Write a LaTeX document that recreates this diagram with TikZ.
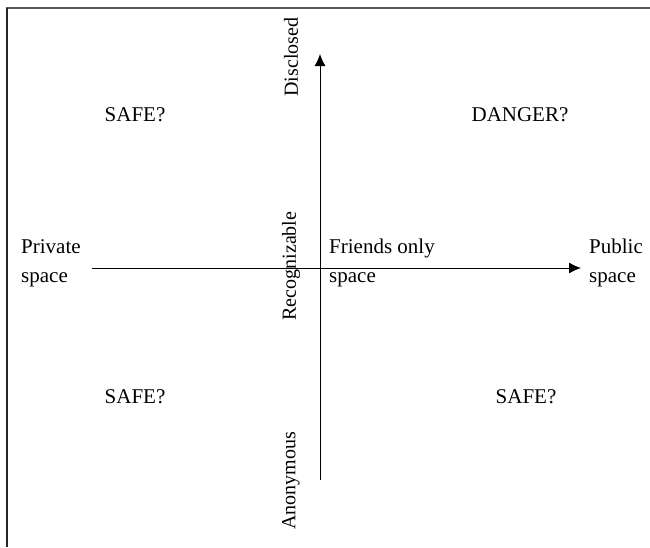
\documentclass[tikz,border=0pt]{standalone}
\usepackage{fontspec}
\setmainfont{Liberation Serif}
\usetikzlibrary{arrows.meta}
\begin{document}
\begin{tikzpicture}[x=1pt, y=-1pt,
    lbl/.style = {inner sep=0pt, font=\fontsize{21}{29}\selectfont},
    side/.style = {lbl, align=left, anchor=west},
    axislbl/.style = {inner sep=0pt, font=\fontsize{20}{28}\selectfont, rotate=90},
    axis/.style = {line width=0.9pt, -{Latex[length=12pt, width=11pt]}}]
    \useasboundingbox (0,0) rectangle (650,547);
    % frame
    \draw[line width=1.6pt, black!65] (6,8) -- (650,8);
    \draw[line width=1.6pt, black!85] (7,8) -- (7,547);

    \coordinate (west) at (92, 268);
    \coordinate (east) at (581, 268);
    \coordinate (south) at (320, 480);
    \coordinate (north) at (320, 54);

    \draw[axis] (west) -- (east);
    \draw[axis] (south) -- (north);

    \node[side] (priv) at (21, 263) {Private\\space};
    \node[side] (friends) at (329, 263) {Friends only\\space};
    \node[side] (pub) at (589, 263) {Public\\space};

    \node[axislbl] (discl) at (291, 57) {Disclosed};
    \node[axislbl] (recog) at (291, 266) {Recognizable};
    \node[axislbl] (anon) at (291, 481) {Anonymous};

    \node[lbl] (tl) at (135, 115) {SAFE?};
    \node[lbl] (tr) at (520, 115) {DANGER?};
    \node[lbl] (bl) at (135, 397) {SAFE?};
    \node[lbl] (br) at (526, 397) {SAFE?};
\end{tikzpicture}
\end{document}
